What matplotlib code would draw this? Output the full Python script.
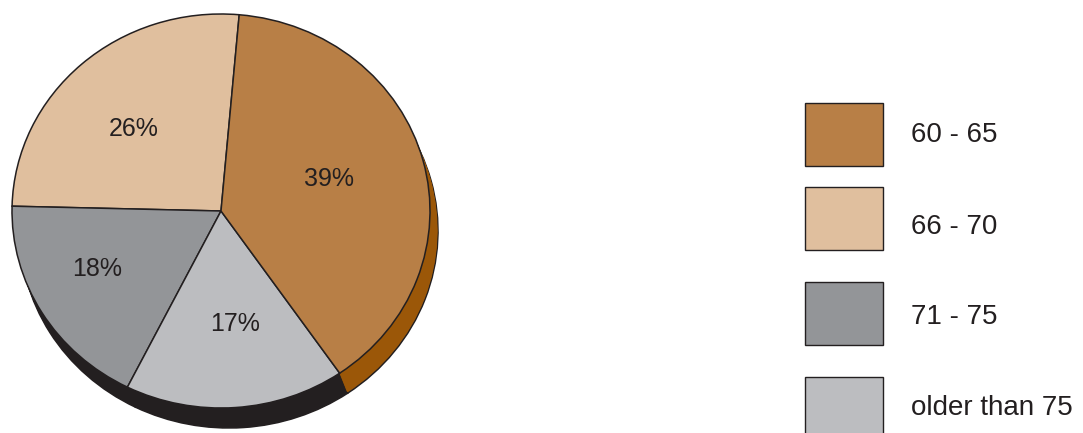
import numpy as np
import matplotlib.pyplot as plt
from matplotlib.patches import Rectangle
from matplotlib.transforms import ScaledTranslation

plt.rcParams["font.family"] = ["Liberation Sans", "DejaVu Sans"]

# age groups, in legend order
groups = ["60 - 65", "66 - 70", "71 - 75", "older than 75"]
shares = [39, 26, 18, 17]
top_colors = ["#b87f46", "#e0bf9e", "#939598", "#bcbdc0"]
side_colors = ["#9b5708", "#231f20", "#231f20", "#231f20"]

# counter-clockwise drawing order starting at the top
pie_order = [1, 2, 3, 0]
# percentage label placement in pie order: radius and angle nudge (deg)
label_dist = [0.59, 0.66, 0.58, 0.54]
label_turn = [3.5, -4.5, 2.7, 2.8]

INK = "#231f20"
DPI = 100
W, H = 1083, 433

fig = plt.figure(figsize=(W / DPI, H / DPI), dpi=DPI)

# pie axes: ellipse 418 x 394 px, centred at (221, 211)
cx, cy, rx, ry = 221, 211, 209, 197
ax = fig.add_axes([(cx - rx) / W, (H - cy - ry) / H, 2 * rx / W, 2 * ry / H])

vals = [shares[i] for i in pie_order]
tops = [top_colors[i] for i in pie_order]
sides = [side_colors[i] for i in pie_order]
start = 85

# extruded side: stacked copies shifted down-right
depth_x, depth_y, steps = 8, 20, 20
for k in range(steps, 0, -1):
    shift = ScaledTranslation(depth_x * k / steps / DPI,
                              -depth_y * k / steps / DPI,
                              fig.dpi_scale_trans)
    outer = k == steps
    wedges, _ = ax.pie(vals, colors=sides, startangle=start,
                       counterclock=True, radius=1,
                       wedgeprops=dict(linewidth=1.1 if outer else 0,
                                       edgecolor=INK if outer else "none"))
    for w in wedges:
        w.set_transform(ax.transData + shift)
        w.set_clip_on(False)

wedges, _, pcts = ax.pie(vals, colors=tops, startangle=start,
                         counterclock=True, radius=1,
                         autopct="%d%%", pctdistance=0.6,
                         wedgeprops=dict(linewidth=1.1, edgecolor=INK),
                         textprops=dict(fontsize=18, color=INK))
for w in wedges:
    w.set_clip_on(False)
for w, t, d, turn in zip(wedges, pcts, label_dist, label_turn):
    mid = np.deg2rad((w.theta1 + w.theta2) / 2 + turn)
    t.set_position((d * np.cos(mid), d * np.sin(mid)))

ax.set_aspect("auto")
ax.set_xlim(-1, 1)
ax.set_ylim(-1, 1)
ax.axis("off")

# legend drawn in pixel coordinates
leg = fig.add_axes([0, 0, 1, 1], facecolor="none")
leg.set_xlim(0, W)
leg.set_ylim(H, 0)
leg.axis("off")
box_tops = [103, 187, 282, 377]
text_y = [135, 227, 317, 408]
for name, color, bt, ty in zip(groups, top_colors, box_tops, text_y):
    leg.add_patch(Rectangle((805, bt), 78, 63, facecolor=color,
                            edgecolor=INK, linewidth=1.0, clip_on=False))
    leg.text(911, ty, name, fontsize=20, color=INK, va="center", ha="left")

fig.savefig("out.png", dpi=DPI)
